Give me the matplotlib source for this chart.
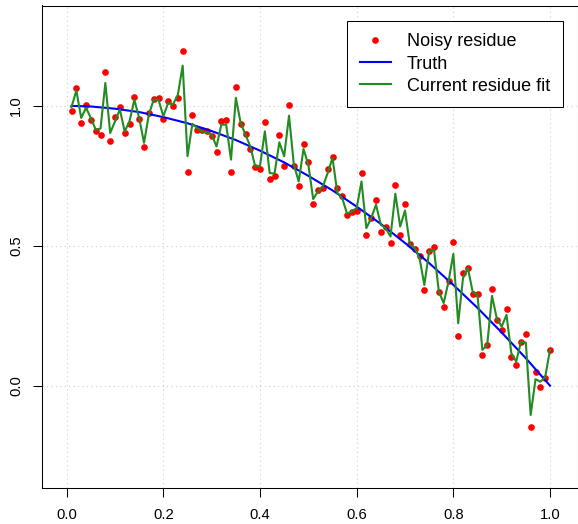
import numpy as np
import matplotlib
matplotlib.use("Agg")
import matplotlib.pyplot as plt

plt.rcParams['font.family'] = ['Liberation Sans', 'DejaVu Sans']

# design points x = 0.01 ... 1.00
x = np.arange(1, 101) / 100

# noisy residue observations
noisy = [0.983, 1.063, 0.939, 1.002, 0.948, 0.912, 0.897, 1.122, 0.876, 0.959,
         0.996, 0.903, 0.934, 1.031, 0.953, 0.852, 0.975, 1.025, 1.030, 0.955,
         1.019, 1.001, 1.027, 1.195, 0.765, 0.966, 0.915, 0.915, 0.909, 0.891,
         0.837, 0.945, 0.950, 0.762, 1.067, 0.935, 0.901, 0.847, 0.782, 0.775,
         0.943, 0.740, 0.748, 0.896, 0.784, 1.002, 0.784, 0.712, 0.865, 0.798,
         0.650, 0.698, 0.706, 0.775, 0.819, 0.706, 0.679, 0.611, 0.619, 0.623,
         0.760, 0.537, 0.601, 0.662, 0.551, 0.566, 0.510, 0.718, 0.540, 0.649,
         0.507, 0.489, 0.462, 0.343, 0.482, 0.496, 0.333, 0.281, 0.375, 0.514,
         0.179, 0.404, 0.422, 0.327, 0.329, 0.111, 0.146, 0.345, 0.233, 0.199,
         0.274, 0.104, 0.073, 0.157, 0.184, -0.149, 0.050, -0.006, 0.026, 0.127]

# current fit of the residue
fit = [0.996, 1.055, 0.957, 0.993, 0.957, 0.915, 0.919, 1.082, 0.903, 0.945,
       0.987, 0.909, 0.945, 1.022, 0.957, 0.868, 0.969, 1.022, 1.022, 0.963,
       1.011, 1.005, 1.040, 1.144, 0.820, 0.936, 0.921, 0.909, 0.906, 0.897,
       0.855, 0.933, 0.933, 0.808, 1.029, 0.939, 0.897, 0.855, 0.784, 0.786,
       0.909, 0.760, 0.758, 0.870, 0.820, 0.965, 0.790, 0.730, 0.846, 0.790,
       0.667, 0.694, 0.712, 0.760, 0.814, 0.689, 0.671, 0.615, 0.623, 0.635,
       0.730, 0.563, 0.599, 0.647, 0.575, 0.563, 0.533, 0.686, 0.569, 0.626,
       0.504, 0.492, 0.456, 0.360, 0.480, 0.486, 0.336, 0.295, 0.372, 0.471,
       0.223, 0.384, 0.420, 0.336, 0.325, 0.128, 0.144, 0.321, 0.240, 0.211,
       0.253, 0.116, 0.086, 0.157, 0.154, -0.105, 0.023, 0.014, 0.030, 0.128]

# true curve
truth_x = [0.01, 0.05, 0.10, 0.15, 0.20, 0.25, 0.30, 0.35, 0.40, 0.45, 0.50,
           0.55, 0.60, 0.65, 0.70, 0.75, 0.80, 0.85, 0.90, 0.95, 1.00]
truth_y = [1.000, 0.998, 0.990, 0.978, 0.960, 0.938, 0.910, 0.878, 0.840, 0.798, 0.750,
           0.698, 0.640, 0.578, 0.510, 0.438, 0.360, 0.278, 0.190, 0.098, 0.000]

xticks = [0.0, 0.2, 0.4, 0.6, 0.8, 1.0]
yticks = [0.0, 0.5, 1.0]

fig = plt.figure(figsize=(5.78, 5.24), dpi=100)
ax = fig.add_axes([41.7 / 578, 1 - 488 / 524, 535.8 / 578, 482.5 / 524])

ax.grid(True, linestyle=(0, (1, 3)), color='#cfcfcf', linewidth=0.8)
ax.set_axisbelow(True)

ax.plot(x, noisy, 'o', color='red', markersize=4.8, markeredgewidth=0,
        label='Noisy residue', zorder=3)
ax.plot(truth_x, truth_y, color='blue', linewidth=1.5, label='Truth', zorder=4)
ax.plot(x, fit, color='forestgreen', linewidth=1.5, label='Current residue fit', zorder=5)

ax.set_xlim(-0.0517, 1.0569)
ax.set_ylim(-0.366, 1.359)
ax.set_xticks(xticks)
ax.set_xticklabels(['%.1f' % v for v in xticks])
ax.set_yticks(yticks)
ax.set_yticklabels(['%.1f' % v for v in yticks])
plt.setp(ax.get_yticklabels(), rotation=90, va='center')

ax.tick_params(direction='out', length=6.5, width=0.75, labelsize=10.6, pad=8)
ax.tick_params(axis='y', pad=7)
for s in ax.spines.values():
    s.set_linewidth(0.75)

leg = ax.legend(loc='upper right', bbox_to_anchor=(0.9724, 0.9685), borderaxespad=0,
                fancybox=False, edgecolor='black', framealpha=1, fontsize=13,
                handlelength=1.7, handletextpad=0.9, labelspacing=0.29,
                borderpad=0.7, numpoints=1)
leg.get_frame().set_linewidth(0.75)

fig.savefig('out.png', dpi=100)
